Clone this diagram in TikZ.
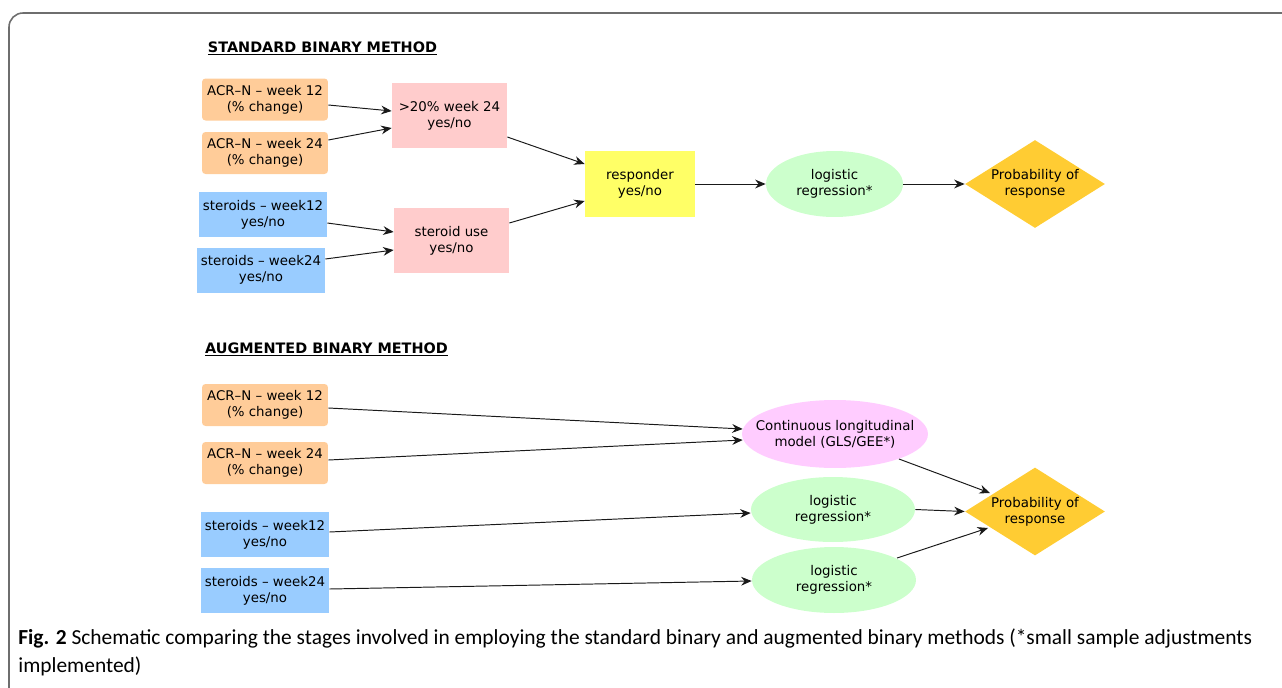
\documentclass[tikz,border=0pt]{standalone}
\usepackage{fontspec}
\setmainfont{DejaVu Sans}
\newfontfamily\capfont{Carlito}
\usetikzlibrary{shapes.geometric,arrows.meta,calc}
\definecolor{orangec}{HTML}{FFCC99}
\definecolor{bluec}{HTML}{99CCFF}
\definecolor{pinkc}{HTML}{FFCCCC}
\definecolor{yellowc}{HTML}{FFFF66}
\definecolor{greenc}{HTML}{CCFFCC}
\definecolor{magc}{HTML}{FFCCFF}
\definecolor{goldc}{HTML}{FFCC33}
\definecolor{framec}{HTML}{6E6E6E}
\newcommand{\nodefont}{\fontsize{7.6}{9.1}\selectfont}
\tikzset{
  txt/.style={align=center, font=\nodefont, inner sep=0pt},
  acrbox/.style={txt, rectangle, rounded corners=2pt, fill=orangec, minimum width=2.52cm, minimum height=0.84cm},
  sterbox/.style={txt, rectangle, fill=bluec, minimum width=2.56cm, minimum height=0.9cm},
  pinkbox/.style={txt, rectangle, fill=pinkc, minimum width=2.3cm, minimum height=1.3cm},
  yellowbox/.style={txt, rectangle, fill=yellowc, minimum width=2.2cm, minimum height=1.32cm},
  greenell/.style={ellipse, fill=greenc, inner sep=0pt},
  magell/.style={ellipse, fill=magc, inner sep=0pt, minimum width=3.72cm, minimum height=1.36cm},
  probdia/.style={diamond, fill=goldc, inner sep=0pt, minimum width=2.8cm, minimum height=1.76cm},
  inlabel/.style={label={[txt]center:#1}},
  arr/.style={draw=black!90, line width=0.55pt, -{Stealth[length=6pt, width=5pt, inset=2pt]}},
  title/.style={font=\fontsize{8.2}{10}\selectfont\bfseries, inner sep=0pt, anchor=base},
  captxt/.style={anchor=base west, inner sep=0pt, font=\capfont\fontsize{12.2}{14}\selectfont}
}
\begin{document}
\begin{tikzpicture}[x=0.02cm, y=-0.02cm]
\useasboundingbox (0,0) rectangle (1282,687);
\begin{scope}
\clip (0,0) rectangle (1282,687);
\draw[framec, line width=0.9pt, rounded corners=8pt] (9,720) -- (9,13) -- (1320,13);
\end{scope}

% ---------- STANDARD ----------
\node[title] (tstd) at (322.5,52) {\underline{STANDARD BINARY METHOD}};
\node[acrbox] (sa1) at (265,99.5) {ACR–N – week 12\\(\% change)};
\node[acrbox] (sa2) at (265,153) {ACR–N – week 24\\(\% change)};
\node[sterbox] (ss1) at (263,214.5) {steroids – week12\\yes/no};
\node[sterbox] (ss2) at (261,270) {steroids – week24\\yes/no};
\node[pinkbox] (sp1) at (449.5,115.5) {>20\% week 24\\yes/no};
\node[pinkbox] (sp2) at (451.5,240.5) {steroid use\\yes/no};
\node[yellowbox] (sy) at (640,184) {responder\\yes/no};
\node[greenell, minimum width=2.74cm, minimum height=1.32cm, inlabel={logistic\\regression*}] (se) at (834.5,184) {};
\node[probdia, inlabel={Probability of\\response}] (sd) at (1035,184) {};

\draw[arr] ($(sa1.east)+(0,5.5)$) -- ($(sp1.west)+(0,-4.5)$);
\draw[arr] ($(sa2.east)+(0,-13)$) -- ($(sp1.west)+(0,12.5)$);
\draw[arr] ($(ss1.east)+(0,8.5)$) -- ($(sp2.west)+(0,-8.5)$);
\draw[arr] ($(ss2.east)+(0,-11)$) -- ($(sp2.west)+(0,9.5)$);
\draw[arr] ($(sp1.east)+(0,21.5)$) -- ($(sy.west)+(0,-20)$);
\draw[arr] ($(sp2.east)+(0,-17.5)$) -- ($(sy.west)+(0,17)$);
\draw[arr] (sy.east) -- (se.west);
\draw[arr] (se.east) -- (sd.west);

% ---------- AUGMENTED ----------
\node[title] (taug) at (326.5,353) {\underline{AUGMENTED BINARY METHOD}};
\node[acrbox] (aa1) at (265,405) {ACR–N – week 12\\(\% change)};
\node[acrbox] (aa2) at (265,463) {ACR–N – week 24\\(\% change)};
\node[sterbox] (as1) at (265,534.5) {steroids – week12\\yes/no};
\node[sterbox] (as2) at (265,590.5) {steroids – week24\\yes/no};
\node[magell, inlabel={Continuous longitudinal\\model (GLS/GEE*)}] (am) at (835,434) {};
\node[greenell, minimum width=3.28cm, minimum height=1.3cm, inlabel={logistic\\regression*}] (ag1) at (833,509.5) {};
\node[greenell, minimum width=3.28cm, minimum height=1.32cm, inlabel={logistic\\regression*}] (ag2) at (834,580) {};
\node[probdia, inlabel={Probability of\\response}] (ad) at (1035,511.5) {};

\draw[arr] ($(aa1.east)+(0,3)$) -- ($(am.west)+(1,-5)$);
\draw[arr] ($(aa2.east)+(0,-3)$) -- ($(am.west)+(1,6)$);
\draw[arr] ($(as1.east)+(0,-2.5)$) -- ($(ag1.west)+(0,3.5)$);
\draw[arr] ($(as2.east)+(0,-1.5)$) -- ($(ag2.west)+(0,1)$);
\draw[arr] ($(am.center)+(64,25)$) -- ($(ad.center)+(-45,-18.5)$);
\draw[arr] (ag1.east) -- (ad.west);
\draw[arr] ($(ag2.center)+(63,-22)$) -- ($(ad.center)+(-47,16.5)$);

% ---------- CAPTION ----------
\node[captxt] (cap1) at (18,644)
  {\textbf{Fig. 2} Schematic comparing the stages involved in employing the standard binary and augmented binary methods (*small sample adjustments};
\node[captxt] (cap2) at (18,672) {implemented)};
\end{tikzpicture}
\end{document}
